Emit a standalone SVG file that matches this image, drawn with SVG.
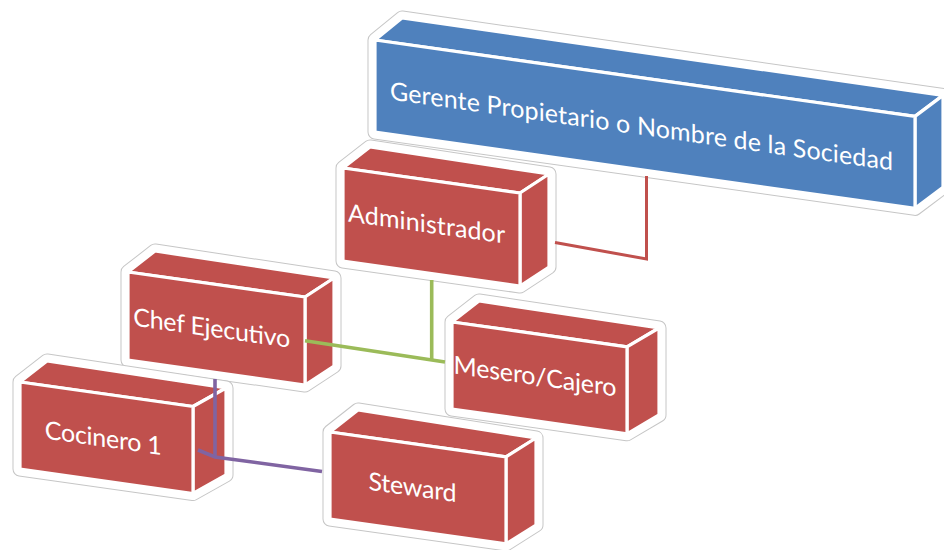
<svg xmlns="http://www.w3.org/2000/svg" width="944" height="550" viewBox="0 0 944 550">
  <style>
    .rim{fill:none;stroke:#c6c6c6;stroke-width:15;stroke-linejoin:round}
    .halo{fill:#fff;stroke:#fff;stroke-width:13;stroke-linejoin:round}
    .face{stroke:#fff;stroke-width:3.2;stroke-linejoin:round}
    .blue{fill:#4F81BD}
    .red{fill:#C0504D}
    .lbl{font-family:Lato,"Open Sans","Liberation Sans",sans-serif;font-size:25px;fill:#fff;text-anchor:middle}
    .wire{fill:none;stroke-linecap:butt;stroke-linejoin:miter}
  </style>
  <rect width="944" height="550" fill="#fff"/>

  <!-- Top block: owner / company -->
  <g id="gerente">
    <polygon class="rim" points="375,132 375,40 402,18 943,95.4 943,187.4 915,208.4"/>
    <polygon class="halo" points="375,132 375,40 402,18 943,95.4 943,187.4 915,208.4"/>
    <polygon class="face blue" points="375,40 915,116.4 943,95.4 402,18"/>
    <polygon class="face blue" points="915,116.4 943,95.4 943,187.4 915,208.4"/>
    <polygon class="face blue" points="375,40 915,116.4 915,208.4 375,132"/>
    <g transform="translate(641.5,135) skewY(8.05)">
      <text class="lbl" x="0" y="0" textLength="503">Gerente Propietario o Nombre de la Sociedad</text>
    </g>
  </g>

  <g id="administrador">
    <polygon class="rim" points="343,261 343,168 370,147 549,174 549,267 520,286"/>
    <polygon class="halo" points="343,261 343,168 370,147 549,174 549,267 520,286"/>
    <polygon class="face red" points="343,168 520,193 549,174 370,147"/>
    <polygon class="face red" points="520,193 549,174 549,267 520,286"/>
    <polygon class="face red" points="343,168 520,193 520,286 343,261"/>
    <g transform="translate(426.5,232.5) skewY(8.05)">
      <text class="lbl" x="0" y="0" textLength="157">Administrador</text>
    </g>
  </g>

  <g id="chef">
    <polygon class="rim" points="128,360 128,272 155,251 334,278 334,366 305,385"/>
    <polygon class="halo" points="128,360 128,272 155,251 334,278 334,366 305,385"/>
    <polygon class="face red" points="128,272 305,297 334,278 155,251"/>
    <polygon class="face red" points="305,297 334,278 334,366 305,385"/>
    <polygon class="face red" points="128,272 305,297 305,385 128,360"/>
    <g transform="translate(211.7,336.7) skewY(8.05)">
      <text class="lbl" x="0" y="0" textLength="157">Chef Ejecutivo</text>
    </g>
  </g>

  <g id="mesero">
    <polygon class="rim" points="452,409 452,322 479,301 659,328 659,415 627,433.8"/>
    <polygon class="halo" points="452,409 452,322 479,301 659,328 659,415 627,433.8"/>
    <polygon class="face red" points="452,322 627,346.8 659,328 479,301"/>
    <polygon class="face red" points="627,346.8 659,328 659,415 627,433.8"/>
    <polygon class="face red" points="452,322 627,346.8 627,433.8 452,409"/>
    <g transform="translate(535,385) skewY(8.05)">
      <text class="lbl" x="0" y="0" textLength="163">Mesero/Cajero</text>
    </g>
  </g>

  <g id="cocinero">
    <polygon class="rim" points="20,469 20,382 47,361 226,388 226,475 193,493.5"/>
    <polygon class="halo" points="20,469 20,382 47,361 226,388 226,475 193,493.5"/>
    <polygon class="face red" points="20,382 193,406.5 226,388 47,361"/>
    <polygon class="face red" points="193,406.5 226,388 226,475 193,493.5"/>
    <polygon class="face red" points="20,382 193,406.5 193,493.5 20,469"/>
    <g transform="translate(103.3,446.7) skewY(8.05)">
      <text class="lbl" x="0" y="0" textLength="117">Cocinero 1</text>
    </g>
  </g>

  <g id="steward">
    <polygon class="rim" points="330,519 330,432 358,410 536,438 536,525 506,543.9"/>
    <polygon class="halo" points="330,519 330,432 358,410 536,438 536,525 506,543.9"/>
    <polygon class="face red" points="330,432 506,456.9 536,438 358,410"/>
    <polygon class="face red" points="506,456.9 536,438 536,525 506,543.9"/>
    <polygon class="face red" points="330,432 506,456.9 506,543.9 330,519"/>
    <g transform="translate(412.5,496) skewY(8.05)">
      <text class="lbl" x="0" y="0" textLength="88">Steward</text>
    </g>
  </g>

  <!-- Connectors between the blocks -->
  <g id="connectors">
    <polyline class="wire" stroke="#C0504D" stroke-width="3" points="646.5,176 646.5,259 555,242.5"/>
    <polyline class="wire" stroke="#9BBB59" stroke-width="3.6" points="431.7,280 431.7,360"/>
    <polyline class="wire" stroke="#9BBB59" stroke-width="3.6" points="305,340.7 445,362"/>
    <polyline class="wire" stroke="#8064A2" stroke-width="3.6" points="215,379 215,457"/>
    <polyline class="wire" stroke="#8064A2" stroke-width="3.6" points="198,450 215,457 322,471.5"/>
  </g>
</svg>
